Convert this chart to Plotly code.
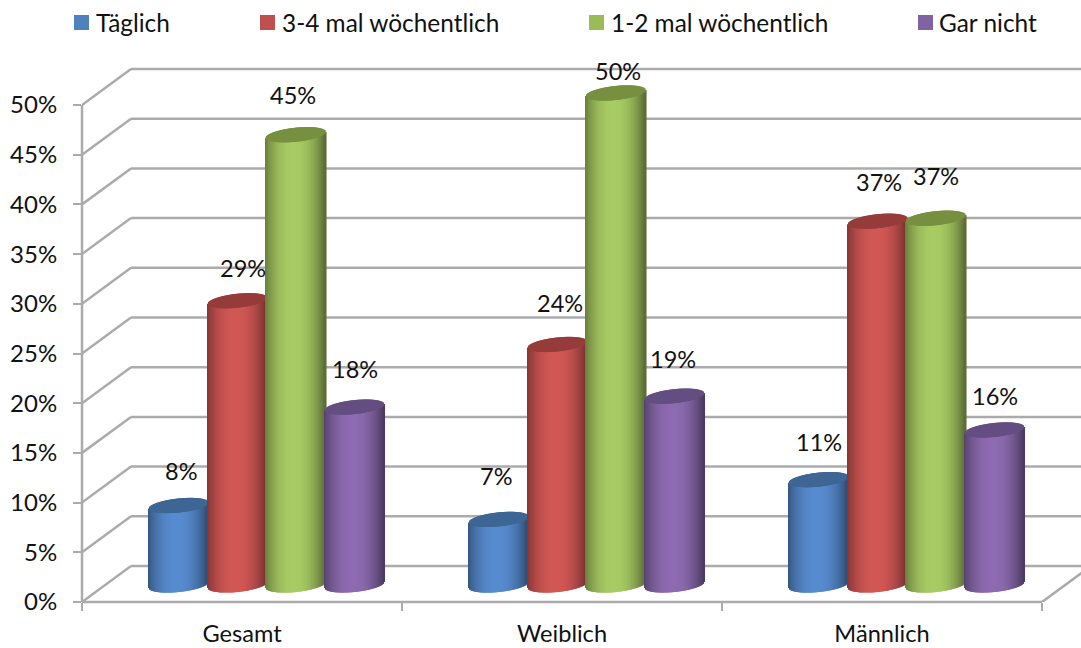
import numpy as np
import plotly.graph_objects as go

# DATA
categories = ['Gesamt', 'Weiblich', 'Männlich']
series_names = ['Täglich', '3-4 mal wöchentlich', '1-2 mal wöchentlich', 'Gar nicht']
taeglich = [8.0, 6.6, 10.6]
mal_3_4 = [28.6, 24.2, 36.6]
mal_1_2 = [45.3, 49.5, 36.9]
gar_nicht = [17.9, 19.0, 15.6]
series_values = [taeglich, mal_3_4, mal_1_2, gar_nicht]
y_ticks = [0, 5, 10, 15, 20, 25, 30, 35, 40, 45, 50]

# styles
body_colors = ['#5689CC', '#CE5653', '#A5C861', '#8B69AE']
cap_colors = ['#3D6694', '#953C3A', '#76903F', '#644D80']
swatch_colors = ['#4F81BD', '#C0504D', '#9BBB59', '#8064A2']
swatch_left = [74, 260, 589, 918]
text_left = [94, 280, 609, 937]
FONT = 'Lato'
GRID = '#ABABAB'
# hand placed value labels, per series then per category, in pixels
label_dx = [[2, -3, 0], [5, 2, 1], [-3, 2, 0], [0, -2, 0]]
label_dy = [[34, 43, 38], [33, 41, 39], [40, 22, 42], [38, 37, 34]]

# page geometry, everything else goes through the axes
LEFT, ZERO, TOP = 82, 602, 60
X_PX = 320.0   # pixels per category
Y_PX = 9.94    # pixels per percent
DEPTH_X, DEPTH_Y = 49 / X_PX, 36 / Y_PX
FLOOR = 17 / Y_PX   # cylinders stand half way into the depth
GROUP_SHIFT = 25 / X_PX
STEP = 58.5 / X_PX
RADIUS = 29.5 / X_PX
X_MAX = (1081 - LEFT) / X_PX
Y_MAX = (ZERO - TOP) / Y_PX


def shade(color, factor):
    rgb = [int(color[i:i + 2], 16) for i in (1, 3, 5)]
    return 'rgb({},{},{})'.format(*[int(min(255, c * factor)) for c in rgb])


def px_x(px):
    return (px - LEFT) / (1081 - LEFT)


def px_y(px):
    return (ZERO - px) / (ZERO - TOP)


u = np.linspace(-1, 1, 60)
half = np.sqrt(1 - u ** 2)
factors = 0.6 + 0.42 * (1 - np.abs(u + 0.05) ** 2.2)

fig = go.Figure()

for s, values in enumerate(series_values):
    xs, bases, heights, colors = [], [], [], []
    cap_bases, cap_heights = [], []
    for c, v in enumerate(values):
        center = c + 0.5 + GROUP_SHIFT + (s - 1.5) * STEP
        bottom = FLOOR + (3 * u - 7 * half) / Y_PX
        top = v + FLOOR + 3 * u / Y_PX
        xs.extend(center + u * RADIUS)
        bases.extend(bottom)
        heights.extend(top - bottom)
        colors.extend(shade(body_colors[s], f) for f in factors)
        cap_bases.extend(top - 7 * half / Y_PX)
        cap_heights.extend(14 * half / Y_PX)
    width = 1.6 / X_PX
    fig.add_trace(go.Bar(x=xs, y=heights, base=bases, width=width, name=series_names[s],
                         marker=dict(color=colors, line_width=0), showlegend=False))
    fig.add_trace(go.Bar(x=xs, y=cap_heights, base=cap_bases, width=width, name=series_names[s],
                         marker=dict(color=cap_colors[s], line_width=0), showlegend=False))

# walls and floor of the 3d box
shapes = []
for v in y_ticks:
    line = dict(type='line', xref='x', yref='y', layer='below', line=dict(color=GRID, width=2.5))
    shapes.append(dict(line, x0=DEPTH_X, x1=X_MAX, y0=v + DEPTH_Y, y1=v + DEPTH_Y))
    shapes.append(dict(line, x0=0, x1=DEPTH_X, y0=v, y1=v + DEPTH_Y))
side = dict(type='line', xref='x', yref='y', layer='below', line=dict(color=GRID, width=2.5))
shapes.append(dict(side, x0=3, x1=3 + DEPTH_X, y0=0, y1=DEPTH_Y))
shapes.append(dict(type='line', xref='paper', yref='y', x0=0, x1=0, y0=0, y1=50,
                   line=dict(color=GRID, width=2.5)))
shapes.append(dict(type='line', xref='x', yref='paper', x0=0, x1=3, y0=0, y1=0,
                   line=dict(color=GRID, width=2.5)))

annotations = []
for s, values in enumerate(series_values):
    for c, v in enumerate(values):
        center = c + 0.5 + GROUP_SHIFT + (s - 1.5) * STEP
        annotations.append(dict(x=center, y=v + FLOOR, xref='x', yref='y', showarrow=False,
                                xshift=label_dx[s][c], yshift=label_dy[s][c],
                                text='{:.0f}%'.format(v), font=dict(family=FONT, size=23.5, color='#111111')))

# legend laid out by hand, the spacing is uneven in the original
for s, name in enumerate(series_names):
    shapes.append(dict(type='rect', xref='paper', yref='paper', line_width=0, fillcolor=swatch_colors[s],
                       x0=px_x(swatch_left[s]), x1=px_x(swatch_left[s] + 15), y0=px_y(30), y1=px_y(15)))
    annotations.append(dict(x=px_x(text_left[s]), y=px_y(22), xref='paper', yref='paper', showarrow=False,
                            xanchor='left', yanchor='middle', text=name,
                            font=dict(family=FONT, size=24.4, color='#111111')))

fig.update_layout(width=1081, height=648, barmode='overlay', showlegend=False, hovermode=False,
                  margin=dict(l=LEFT, r=0, t=TOP, b=648 - ZERO, autoexpand=False),
                  plot_bgcolor='white', paper_bgcolor='white',
                  font=dict(family=FONT, size=24, color='#111111'),
                  shapes=shapes, annotations=annotations)
fig.update_xaxes(range=[0, X_MAX], tickmode='array', tickvals=[0.5, 1.5, 2.5], ticktext=categories,
                 ticks='', showgrid=False, zeroline=False, showline=False, ticklabelstandoff=15,
                 automargin=False, tickfont=dict(size=23.6),
                 minor=dict(tickmode='array', tickvals=[0, 1, 2, 3], ticks='outside', ticklen=8,
                            tickwidth=2, tickcolor=GRID, showgrid=False))
fig.update_yaxes(range=[0, Y_MAX], tickmode='array', tickvals=y_ticks, ticktext=['{}%'.format(t) for t in y_ticks],
                 ticks='outside', ticklen=8, tickwidth=2, tickcolor=GRID, showgrid=False, zeroline=False,
                 showline=False, ticklabelstandoff=11, automargin=False)

fig.write_html("out.html", config=dict(displayModeBar=False),
               post_script="document.body.style.margin='0';")
